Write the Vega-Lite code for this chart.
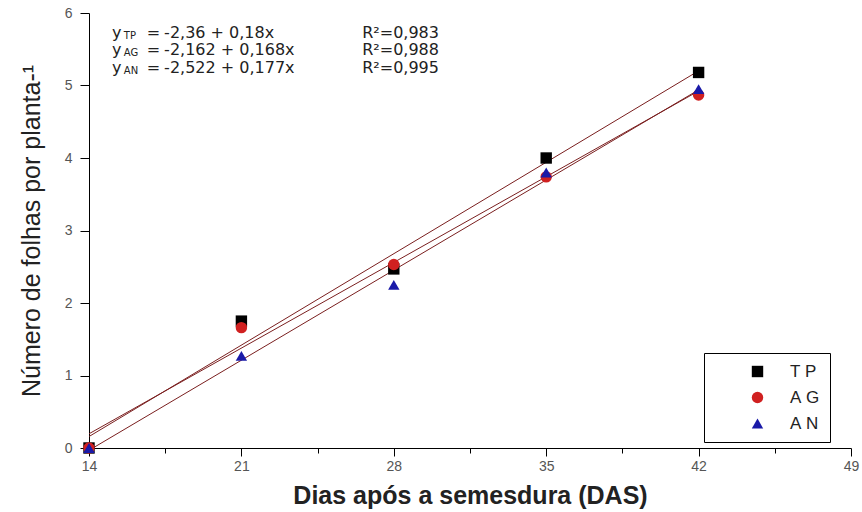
{
  "$schema": "https://vega.github.io/schema/vega-lite/v6.json",
  "autosize": {"type": "none"},
  "padding": {"left": 89, "top": 13, "right": 11, "bottom": 64},
  "width": 762,
  "height": 435,
  "background": "white",
  "config": {"view": {"stroke": null}, "font": "Liberation Sans"},
  "datasets": {
    "pts": [
      {"das": 14, "folhas": 0, "trat": "TP"},
      {"das": 21, "folhas": 1.75, "trat": "TP"},
      {"das": 28, "folhas": 2.47, "trat": "TP"},
      {"das": 35, "folhas": 4.0, "trat": "TP"},
      {"das": 42, "folhas": 5.18, "trat": "TP"},
      {"das": 14, "folhas": 0, "trat": "AG"},
      {"das": 21, "folhas": 1.66, "trat": "AG"},
      {"das": 28, "folhas": 2.53, "trat": "AG"},
      {"das": 35, "folhas": 3.74, "trat": "AG"},
      {"das": 42, "folhas": 4.87, "trat": "AG"},
      {"das": 14, "folhas": 0, "trat": "AN"},
      {"das": 21, "folhas": 1.27, "trat": "AN"},
      {"das": 28, "folhas": 2.25, "trat": "AN"},
      {"das": 35, "folhas": 3.8, "trat": "AN"},
      {"das": 42, "folhas": 4.95, "trat": "AN"}
    ],
    "eq": [
      {"pos": 5.73, "sub": "TP", "eq": "-2,36 + 0,18x", "r2": "R²=0,983"},
      {"pos": 5.49, "sub": "AG", "eq": "-2,162 + 0,168x", "r2": "R²=0,988"},
      {"pos": 5.24, "sub": "AN", "eq": "-2,522 + 0,177x", "r2": "R²=0,995"}
    ]
  },
  "layer": [
    {
      "data": {"name": "pts"},
      "transform": [{"regression": "folhas", "on": "das", "groupby": ["trat"]}],
      "mark": {"type": "line", "color": "#7a1f1f", "strokeWidth": 1, "clip": true},
      "encoding": {
        "x": {
          "field": "das", "type": "quantitative",
          "scale": {"domain": [14, 49], "nice": false, "zero": false},
          "axis": {
            "values": [14, 17.5, 21, 24.5, 28, 31.5, 35, 38.5, 42, 45.5, 49],
            "format": "d",
            "labelExpr": "datum.value % 7 === 0 ? datum.label : ''",
            "tickSize": {"condition": {"test": "datum.value % 7 !== 0", "value": 5}, "value": 8},
            "grid": false, "domainColor": "black", "tickColor": "black",
            "labelFlush": false, "labelOverlap": false,
            "labelFontSize": 14, "labelColor": "#555", "labelPadding": 3,
            "title": "Dias após a semesdura (DAS)",
            "titleFontSize": 25, "titleFontWeight": "bold", "titleColor": "#222", "titlePadding": 10
          }
        },
        "y": {
          "field": "folhas", "type": "quantitative",
          "scale": {"domain": [0, 6], "nice": false},
          "axis": {
            "values": [0, 0.5, 1, 1.5, 2, 2.5, 3, 3.5, 4, 4.5, 5, 5.5, 6],
            "format": "d",
            "labelExpr": "datum.value % 1 === 0 ? datum.label : ''",
            "tickSize": {"condition": {"test": "datum.value % 1 !== 0", "value": 5}, "value": 9},
            "grid": false, "domainColor": "black", "tickColor": "black",
            "labelFlush": false, "labelOverlap": false,
            "labelFontSize": 14, "labelColor": "#555", "labelPadding": 8,
            "title": "Número de folhas por planta-¹",
            "titleFontSize": 25, "titleFontWeight": "normal", "titleColor": "#222", "titlePadding": 20
          }
        },
        "detail": {"field": "trat"}
      }
    },
    {
      "data": {"name": "pts"},
      "mark": {"type": "point", "filled": true, "opacity": 1, "size": 130},
      "encoding": {
        "x": {"field": "das", "type": "quantitative"},
        "y": {"field": "folhas", "type": "quantitative"},
        "color": {
          "field": "trat", "type": "nominal", "title": null,
          "scale": {"domain": ["TP", "AG", "AN"], "range": ["#000000", "#d02020", "#1a1aa8"]},
          "legend": {
            "orient": "none", "legendX": 615, "legendY": 340,
            "strokeColor": "black", "fillColor": "white", "padding": 10,
            "symbolOffset": 35, "labelOffset": 24, "labelFontSize": 17, "labelColor": "#222",
            "symbolSize": 130, "rowPadding": 8,
            "labelExpr": "substring(datum.label,0,1) + '\u00a0' + substring(datum.label,1,2) + '\u00a0\u00a0\u00a0\u00a0\u00a0'"
          }
        },
        "shape": {
          "field": "trat", "type": "nominal", "title": null,
          "scale": {"domain": ["TP", "AG", "AN"], "range": ["square", "circle", "triangle-up"]},
          "legend": {
            "orient": "none", "legendX": 615, "legendY": 340,
            "strokeColor": "black", "fillColor": "white", "padding": 10,
            "symbolOffset": 35, "labelOffset": 24, "labelFontSize": 17, "labelColor": "#222",
            "symbolSize": 130, "rowPadding": 8,
            "labelExpr": "substring(datum.label,0,1) + '\u00a0' + substring(datum.label,1,2) + '\u00a0\u00a0\u00a0\u00a0\u00a0'"
          }
        }
      }
    },
    {
      "data": {"name": "eq"},
      "mark": {"type": "text", "font": "DejaVu Sans", "fontSize": 16, "align": "left", "baseline": "middle", "color": "#222"},
      "encoding": {
        "x": {"datum": 15.06, "type": "quantitative"},
        "y": {"field": "pos", "type": "quantitative"},
        "text": {"value": "y"}
      }
    },
    {
      "data": {"name": "eq"},
      "mark": {"type": "text", "font": "DejaVu Sans", "fontSize": 10, "align": "left", "baseline": "middle", "dy": 3, "color": "#222"},
      "encoding": {
        "x": {"datum": 15.6, "type": "quantitative"},
        "y": {"field": "pos", "type": "quantitative"},
        "text": {"field": "sub"}
      }
    },
    {
      "data": {"name": "eq"},
      "mark": {"type": "text", "font": "DejaVu Sans", "fontSize": 16, "align": "left", "baseline": "middle", "color": "#222"},
      "encoding": {
        "x": {"datum": 16.65, "type": "quantitative"},
        "y": {"field": "pos", "type": "quantitative"},
        "text": {"value": "="}
      }
    },
    {
      "data": {"name": "eq"},
      "mark": {"type": "text", "font": "DejaVu Sans", "fontSize": 16, "align": "left", "baseline": "middle", "color": "#222"},
      "encoding": {
        "x": {"datum": 17.45, "type": "quantitative"},
        "y": {"field": "pos", "type": "quantitative"},
        "text": {"field": "eq"}
      }
    },
    {
      "data": {"name": "eq"},
      "mark": {"type": "text", "font": "DejaVu Sans", "fontSize": 16, "align": "left", "baseline": "middle", "color": "#222"},
      "encoding": {
        "x": {"datum": 26.55, "type": "quantitative"},
        "y": {"field": "pos", "type": "quantitative"},
        "text": {"field": "r2"}
      }
    }
  ]
}
